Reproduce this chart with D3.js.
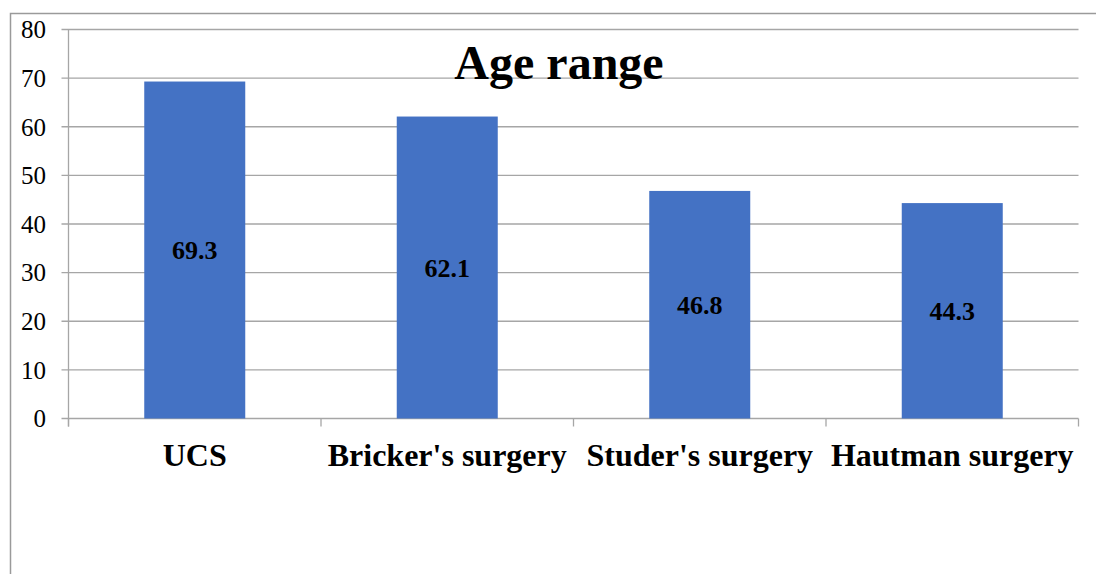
<!DOCTYPE html>
<html><head><meta charset="utf-8">
<script src="https://cdn.jsdelivr.net/npm/d3@7"></script>
<style>body{margin:0;background:#fff}svg{display:block}svg text{font-family:"Liberation Serif","Times New Roman",Times,serif}</style>
</head><body>
<svg id="c" width="1096" height="574"></svg>
<script>
const categories = ["UCS", "Bricker's surgery", "Studer's surgery", "Hautman surgery"];
const values = [69.3, 62.1, 46.8, 44.3];
const yTicks = [0, 10, 20, 30, 40, 50, 60, 70, 80];
const title = "Age range";

const svg = d3.select("#c");
const L = 68.5, R = 1078.5, T = 29.5, B = 418.5;

svg.append("path").attr("d", "M10.5,574 V13.5 H1096").attr("fill", "none").attr("stroke", "#9a9a9a").attr("stroke-width", 1.5);

const x = d3.scaleBand().domain(categories).range([L, R]).paddingInner(0.6).paddingOuter(0.3);
const y = d3.scaleLinear().domain([0, 80]).range([B, T]);

svg.append("g").selectAll("line").data(yTicks).join("line")
  .attr("x1", L - 7).attr("x2", R).attr("y1", d => y(d)).attr("y2", d => y(d))
  .attr("stroke", "#a6a6a6").attr("stroke-width", 1.3);

svg.append("line").attr("x1", L).attr("x2", L).attr("y1", T).attr("y2", B + 8).attr("stroke", "#a6a6a6").attr("stroke-width", 1.3);

const bandStep = (R - L) / categories.length;
svg.append("g").selectAll("line").data(d3.range(categories.length + 1)).join("line")
  .attr("x1", i => L + i * bandStep).attr("x2", i => L + i * bandStep)
  .attr("y1", B).attr("y2", B + 8).attr("stroke", "#a6a6a6").attr("stroke-width", 1.3);

svg.append("g").selectAll("text").data(yTicks).join("text")
  .attr("x", 46).attr("y", d => y(d)).attr("dy", "0.35em").attr("text-anchor", "end")
  .style("font-size", "25px").attr("fill", "#000").text(d => d);

svg.append("g").selectAll("rect").data(values).join("rect")
  .attr("x", (d, i) => x(categories[i])).attr("width", x.bandwidth())
  .attr("y", d => y(d)).attr("height", d => y(0) - y(d)).attr("fill", "#4472C4");

svg.append("g").selectAll("text").data(values).join("text")
  .attr("x", (d, i) => x(categories[i]) + x.bandwidth() / 2)
  .attr("y", d => (y(d) + y(0)) / 2).attr("dy", "0.35em").attr("text-anchor", "middle")
  .style("font-size", "26px").style("font-weight", "bold").attr("fill", "#000")
  .text(d => d.toFixed(1));

svg.append("g").selectAll("text").data(categories).join("text")
  .attr("x", d => x(d) + x.bandwidth() / 2).attr("y", 466).attr("text-anchor", "middle")
  .style("font-size", "32px").style("font-weight", "bold").attr("fill", "#000")
  .text(d => d);

svg.append("text").attr("x", 559).attr("y", 79).attr("text-anchor", "middle")
  .style("font-size", "48px").style("font-weight", "bold").attr("fill", "#000")
  .text(title);
</script>
</body></html>
